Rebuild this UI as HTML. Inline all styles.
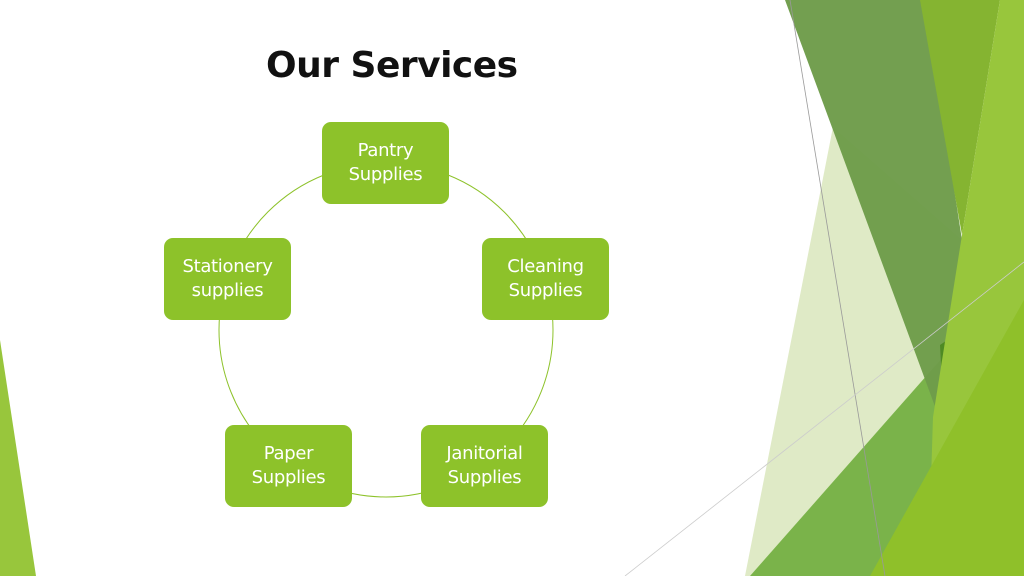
<!DOCTYPE html><html><head><style>
body{margin:0;width:1024px;height:576px;overflow:hidden;background:#fff;font-family:"Liberation Sans",sans-serif;position:relative}
.t{position:absolute;left:266px;top:45px;font-size:36px;font-weight:bold;color:#111;font-family:"DejaVu Sans","Liberation Sans",sans-serif;letter-spacing:-0.5px}
.b{position:absolute;width:127px;height:82px;background:#8dc22a;border-radius:9px;color:#fff;font-size:18px;display:flex;align-items:center;justify-content:center;text-align:center;line-height:24px;font-family:"DejaVu Sans","Liberation Sans",sans-serif;letter-spacing:-0.3px}
svg{position:absolute;left:0;top:0}
</style></head><body>
<svg width="1024" height="576">
<polygon points="0,340 36,576 0,576" fill="#98c63c"/>
<polygon points="833,127 962,240 945,420 750,576 745,576" fill="#dfeac6"/>
<polygon points="750,576 958,340 1024,280 1024,576" fill="#7ab34a"/>
<polygon points="785,0 925,0 962,240 945,440 940,420" fill="#6e9c4a" opacity="0.97"/>
<polygon points="940,345 962,330 945,440" fill="#4e8a24"/>
<polygon points="920,0 1000,0 962,235" fill="#85b431"/>
<polygon points="1000,0 1024,0 1024,576 928,576 933,417 962,235" fill="#98c63c"/>
<polygon points="870,576 1024,300 1024,576" fill="#8fc02a"/>
<line x1="790" y1="0" x2="885" y2="576" stroke="#999" stroke-width="0.8"/>
<line x1="625" y1="576" x2="1024" y2="262" stroke="#ccc" stroke-width="0.8"/>
<circle cx="386" cy="330" r="167" fill="none" stroke="#8dc22a" stroke-width="1"/>
</svg>
<div class="t">Our Services</div>
<div class="b" style="left:322px;top:122px">Pantry<br>Supplies</div>
<div class="b" style="left:482px;top:238px">Cleaning<br>Supplies</div>
<div class="b" style="left:421px;top:425px">Janitorial<br>Supplies</div>
<div class="b" style="left:225px;top:425px">Paper<br>Supplies</div>
<div class="b" style="left:164px;top:238px">Stationery<br>supplies</div>
</body></html>
